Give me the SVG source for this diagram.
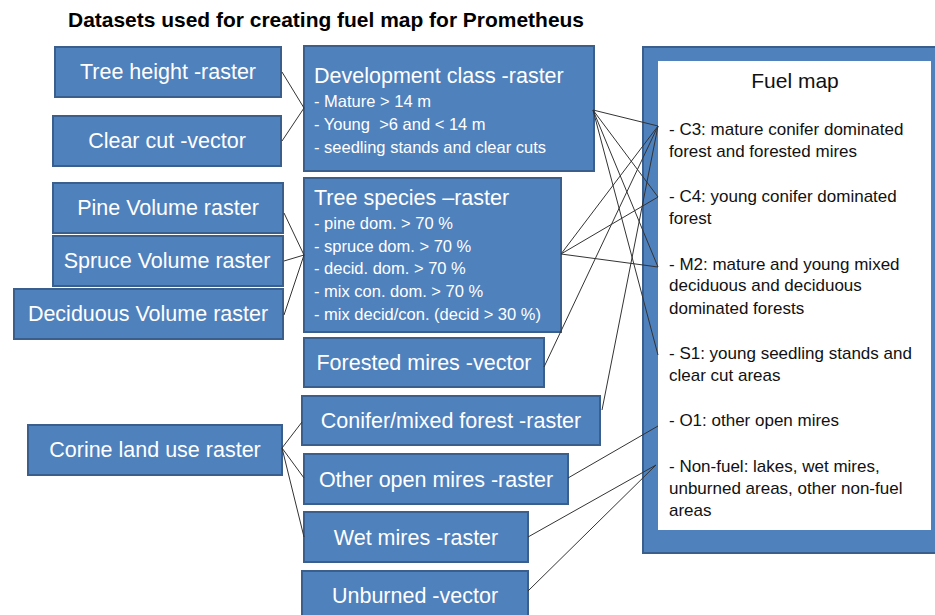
<svg xmlns="http://www.w3.org/2000/svg" width="935" height="615" viewBox="0 0 935 615">
<style>
.box{fill:#4F81BD;stroke:#3A5F8C;stroke-width:2}
.t{font-family:"Liberation Sans",Arial,sans-serif;fill:#fff;font-size:21.5px}
.tc{text-anchor:middle}
.s{font-family:"Liberation Sans",Arial,sans-serif;fill:#fff;font-size:16.5px}
.f{font-family:"Liberation Sans",Arial,sans-serif;fill:#111;font-size:17px}
.fh{font-family:"Liberation Sans",Arial,sans-serif;fill:#111;font-size:21px;text-anchor:middle}
.c{stroke:#333;stroke-width:1;fill:none}
</style>
<rect width="935" height="615" fill="#fff"/>
<text x="68" y="27" font-family="Liberation Sans,Arial,sans-serif" font-weight="bold" font-size="20.5" textLength="516" lengthAdjust="spacingAndGlyphs" fill="#000">Datasets used for creating fuel map for Prometheus</text>

<g id="n-tree-height"><rect class="box" x="55" y="47" width="226" height="50"/><text class="t tc" x="168" y="79">Tree height -raster</text></g>
<g id="n-clear-cut"><rect class="box" x="53" y="116" width="228" height="50"/><text class="t tc" x="167" y="148">Clear cut -vector</text></g>
<g id="n-dev-class"><rect class="box" x="304" y="46" width="290" height="125"/>
<text class="t" x="314" y="83">Development class -raster</text>
<text class="s" x="314" y="107">- Mature &gt; 14 m</text>
<text class="s" x="314" y="130" xml:space="preserve">- Young  &gt;6 and &lt; 14 m</text>
<text class="s" x="314" y="153">- seedling stands and clear cuts</text></g>
<g id="n-pine"><rect class="box" x="53" y="183" width="230" height="50"/><text class="t tc" x="168" y="215">Pine Volume raster</text></g>
<g id="n-spruce"><rect class="box" x="53" y="236" width="230" height="50"/><text class="t tc" x="167" y="268">Spruce Volume raster</text></g>
<g id="n-decid"><rect class="box" x="14" y="289" width="269" height="50"/><text class="t tc" x="148" y="321">Deciduous Volume raster</text></g>
<g id="n-species"><rect class="box" x="304" y="178" width="257" height="154"/>
<text class="t" x="314" y="205">Tree species –raster</text>
<text class="s" x="314" y="229">- pine dom. &gt; 70 %</text>
<text class="s" x="314" y="252">- spruce dom. &gt; 70 %</text>
<text class="s" x="314" y="274">- decid. dom. &gt; 70 %</text>
<text class="s" x="314" y="297">- mix con. dom. &gt; 70 %</text>
<text class="s" x="314" y="320">- mix decid/con. (decid &gt; 30 %)</text></g>
<g id="n-forested-mires"><rect class="box" x="304" y="338" width="240" height="49"/><text class="t tc" x="424" y="370">Forested mires -vector</text></g>
<g id="n-corine"><rect class="box" x="28" y="425" width="254" height="50"/><text class="t tc" x="155" y="457">Corine land use raster</text></g>
<g id="n-conifer"><rect class="box" x="302" y="396" width="298" height="49"/><text class="t tc" x="451" y="428">Conifer/mixed forest -raster</text></g>
<g id="n-open-mires"><rect class="box" x="304" y="454" width="264" height="50"/><text class="t tc" x="436" y="487">Other open mires -raster</text></g>
<g id="n-wet-mires"><rect class="box" x="304" y="512" width="224" height="50"/><text class="t tc" x="416" y="545">Wet mires -raster</text></g>
<g id="n-unburned"><rect class="box" x="302" y="571" width="226" height="50"/><text class="t tc" x="415" y="603">Unburned -vector</text></g>

<g id="n-fuel-map">
<rect x="643" y="47" width="310" height="506" fill="#4F81BD" stroke="#3A5F8C" stroke-width="2"/>
<rect x="658" y="61" width="273" height="469" fill="#fff"/>
<text class="fh" x="795" y="88">Fuel map</text>
<text class="f" x="669" y="135">- C3: mature conifer dominated</text>
<text class="f" x="669" y="157">forest and forested mires</text>
<text class="f" x="669" y="202">- C4: young conifer dominated</text>
<text class="f" x="669" y="224">forest</text>
<text class="f" x="669" y="270">- M2: mature and young mixed</text>
<text class="f" x="669" y="291">deciduous and deciduous</text>
<text class="f" x="669" y="314">dominated forests</text>
<text class="f" x="669" y="359">- S1: young seedling stands and</text>
<text class="f" x="669" y="381">clear cut areas</text>
<text class="f" x="669" y="426">- O1: other open mires</text>
<text class="f" x="669" y="472">- Non-fuel: lakes, wet mires,</text>
<text class="f" x="669" y="494">unburned areas, other non-fuel</text>
<text class="f" x="669" y="516">areas</text>
</g>

<g id="connectors">
<line class="c" x1="282" y1="72" x2="304" y2="108"/>
<line class="c" x1="282" y1="141" x2="304" y2="108"/>
<line class="c" x1="284" y1="213" x2="304" y2="255"/>
<line class="c" x1="284" y1="261" x2="304" y2="255"/>
<line class="c" x1="284" y1="315" x2="304" y2="255"/>
<line class="c" x1="282" y1="448" x2="302" y2="422"/>
<line class="c" x1="282" y1="448" x2="304" y2="478"/>
<line class="c" x1="282" y1="448" x2="304" y2="537"/>
<line class="c" x1="593" y1="110" x2="658" y2="126"/>
<line class="c" x1="593" y1="110" x2="658" y2="197"/>
<line class="c" x1="593" y1="110" x2="658" y2="267"/>
<line class="c" x1="593" y1="110" x2="658" y2="355"/>
<line class="c" x1="561" y1="254" x2="658" y2="126"/>
<line class="c" x1="561" y1="254" x2="658" y2="197"/>
<line class="c" x1="561" y1="254" x2="658" y2="267"/>
<line class="c" x1="544" y1="367" x2="658" y2="126"/>
<line class="c" x1="602" y1="410" x2="658" y2="126"/>
<line class="c" x1="568" y1="478" x2="658" y2="426"/>
<line class="c" x1="528" y1="537" x2="656" y2="465"/>
<line class="c" x1="528" y1="591" x2="656" y2="465"/>
</g>
</svg>
